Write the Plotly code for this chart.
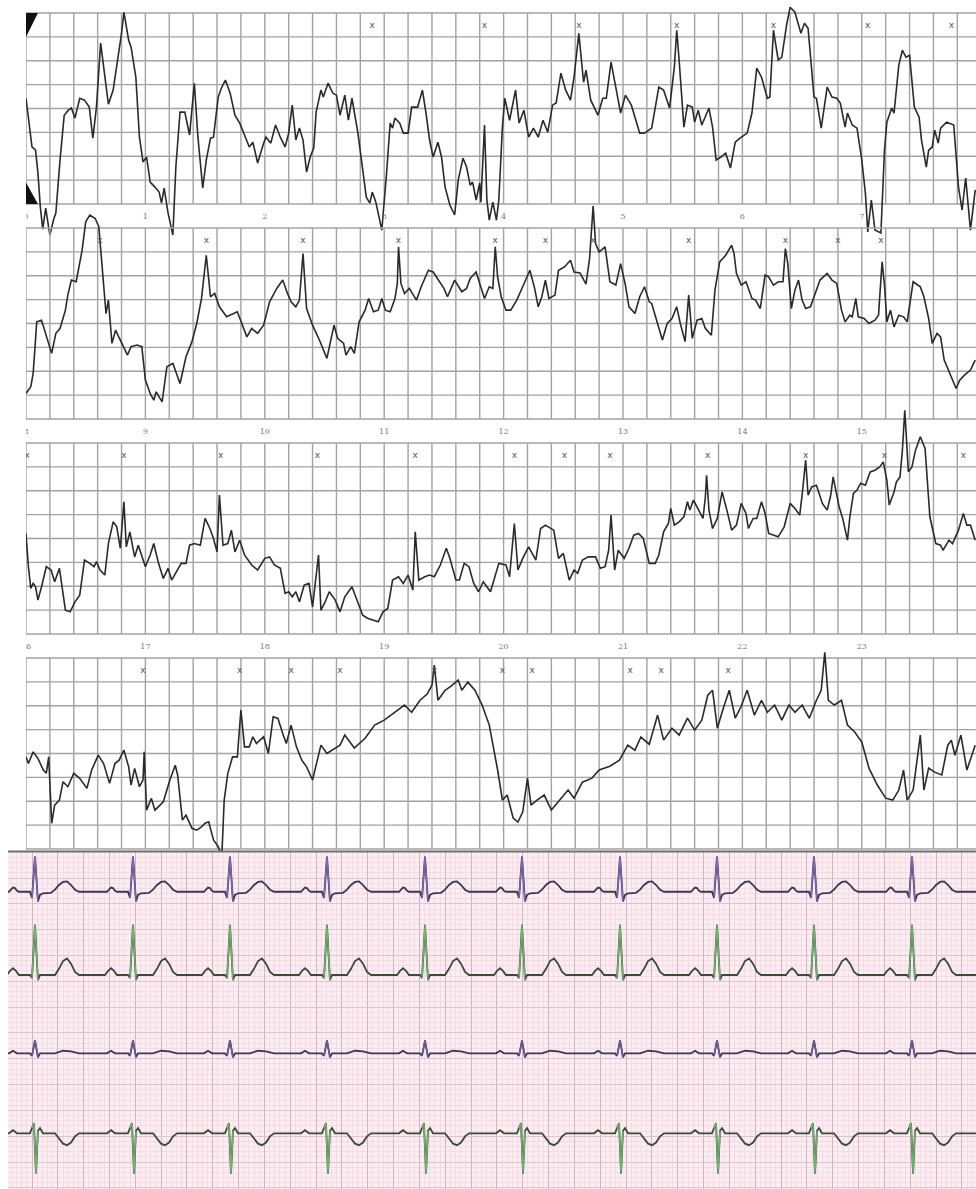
import plotly.graph_objects as go

W, H = 976, 1189

# ---------------------------------------------------------------------------
# Holter rhythm strips: (seconds from strip start, amplitude in grid divisions)
# ---------------------------------------------------------------------------
STRIP_1 = [
    (0, 4.43), (0.04, 2.97), (0.05, 2.39), (0.08, 2.26), (0.10, 1.30), (0.12, -0.13), (0.14, -1.05),
    (0.165, -0.17), (0.20, -1.30), (0.23, -0.67), (0.25, -0.38), (0.285, 1.84), (0.32, 3.72), (0.355, 3.93),
    (0.38, 4.02), (0.41, 3.60), (0.45, 4.43), (0.49, 4.35), (0.53, 4.06), (0.56, 2.76), (0.59, 4.06),
    (0.625, 6.74), (0.65, 5.73), (0.69, 4.18), (0.73, 4.77), (0.77, 6.03), (0.80, 7.15), (0.82, 8.03),
    (0.86, 6.86), (0.88, 6.57), (0.92, 5.31), (0.95, 2.80), (0.98, 1.76), (1.01, 1.97), (1.04, 0.92),
    (1.08, 0.71), (1.115, 0.50), (1.135, 0.04), (1.157, 0.67), (1.19, -0.38), (1.23, -1.30), (1.255, 1.55),
    (1.29, 3.85), (1.33, 3.85), (1.37, 2.89), (1.41, 5.06), (1.44, 2.80), (1.48, 0.67), (1.51, 1.84),
    (1.545, 2.76), (1.57, 2.80), (1.61, 4.48), (1.64, 4.90), (1.67, 5.19), (1.71, 4.64), (1.75, 3.72),
    (1.79, 3.39), (1.83, 2.89), (1.87, 2.39), (1.90, 2.59), (1.94, 1.72), (1.99, 2.55), (2.01, 2.80),
    (2.05, 2.55), (2.09, 3.31), (2.13, 2.80), (2.17, 2.39), (2.20, 2.97), (2.23, 4.14), (2.26, 2.68),
    (2.29, 3.18), (2.32, 2.68), (2.35, 1.34), (2.38, 1.97), (2.41, 2.34), (2.43, 3.85), (2.47, 4.77),
    (2.49, 4.48), (2.53, 5.06), (2.57, 4.64), (2.60, 4.56), (2.63, 3.72), (2.67, 4.56), (2.70, 3.51),
    (2.73, 4.43), (2.78, 2.97), (2.81, 1.84), (2.85, 0.29), (2.88, 0.04), (2.90, 0.50), (2.93, 0.08),
    (2.96, -0.67), (2.98, -1.09), (3.02, 1.30), (3.05, 3.39), (3.07, 3.18), (3.09, 3.60), (3.13, 3.39),
    (3.16, 2.97), (3.20, 2.97), (3.23, 4.06), (3.28, 4.06), (3.32, 4.77), (3.35, 3.81), (3.38, 2.68),
    (3.41, 1.97), (3.45, 2.59), (3.48, 1.97), (3.51, 0.71), (3.55, -0.04), (3.59, -0.46), (3.62, 1.00),
    (3.66, 1.92), (3.69, 1.55), (3.72, 0.79), (3.74, 0.92), (3.77, 0.17), (3.80, 0.88), (3.81, 0.08),
    (3.84, 3.31), (3.86, 0.17), (3.88, -0.67), (3.91, 0.08), (3.94, -0.67), (3.96, 0.17), (3.99, 3.22),
    (4.01, 4.43), (4.05, 3.51), (4.10, 4.77), (4.13, 3.39), (4.17, 3.93), (4.21, 2.80), (4.25, 3.18),
    (4.29, 2.80), (4.33, 3.51), (4.37, 3.01), (4.41, 4.14), (4.44, 4.23), (4.48, 5.48), (4.52, 4.77),
    (4.56, 4.35), (4.59, 5.31), (4.63, 7.15), (4.67, 5.10), (4.69, 5.61), (4.73, 4.35), (4.79, 3.72),
    (4.83, 4.43), (4.86, 4.43), (4.90, 5.94), (4.94, 4.90), (4.98, 3.81), (5.02, 4.56), (5.07, 4.14),
    (5.14, 2.97), (5.18, 2.97), (5.24, 3.18), (5.28, 4.27), (5.30, 4.90), (5.34, 4.77), (5.39, 4.02),
    (5.43, 5.73), (5.45, 7.28), (5.47, 6.03), (5.51, 3.22), (5.54, 4.14), (5.58, 4.06), (5.60, 3.43),
    (5.63, 3.93), (5.66, 3.31), (5.72, 4.02), (5.75, 3.22), (5.78, 1.84), (5.82, 1.97), (5.86, 2.13),
    (5.90, 1.51), (5.94, 2.59), (5.98, 2.76), (6.04, 2.97), (6.08, 3.81), (6.12, 5.69), (6.16, 5.31),
    (6.21, 4.43), (6.23, 4.48), (6.26, 7.28), (6.30, 6.03), (6.33, 6.15), (6.37, 7.49), (6.40, 8.24),
    (6.44, 8.03), (6.49, 7.15), (6.52, 7.57), (6.55, 7.36), (6.60, 4.48), (6.62, 4.43), (6.66, 3.18),
    (6.71, 4.90), (6.75, 4.48), (6.79, 4.43), (6.82, 4.23), (6.86, 3.22), (6.88, 3.81), (6.92, 3.31),
    (6.96, 3.18), (7.00, 1.84), (7.03, 0.46), (7.05, -1.17), (7.08, 0.17), (7.11, -1.09), (7.16, -1.21),
    (7.19, 2.26), (7.21, 3.43), (7.25, 4.02), (7.27, 3.81), (7.31, 5.82), (7.34, 6.44), (7.37, 6.15),
    (7.40, 6.23), (7.44, 4.06), (7.48, 3.64), (7.50, 2.68), (7.54, 1.55), (7.56, 2.26), (7.59, 2.39),
    (7.61, 3.10), (7.64, 2.55), (7.66, 3.18), (7.71, 3.43), (7.77, 3.31), (7.81, 0.71), (7.84, -0.25),
    (7.87, 1.09), (7.91, -1.09), (7.95, 0.59),
]

STRIP_2 = [
    (0, 1.07), (0.04, 1.35), (0.06, 1.91), (0.09, 4.07), (0.13, 4.14), (0.17, 3.44), (0.215, 2.75),
    (0.25, 3.59), (0.285, 3.79), (0.33, 4.56), (0.35, 5.19), (0.38, 5.82), (0.42, 5.75), (0.47, 7.07),
    (0.50, 8.26), (0.535, 8.54), (0.58, 8.40), (0.61, 8.05), (0.64, 6.37), (0.67, 4.42), (0.69, 4.98),
    (0.72, 3.17), (0.75, 3.72), (0.79, 3.31), (0.85, 2.68), (0.88, 3.03), (0.93, 3.10), (0.97, 3.03),
    (1.00, 1.63), (1.04, 1.07), (1.07, 0.79), (1.09, 1.14), (1.14, 0.72), (1.18, 2.19), (1.23, 2.33),
    (1.29, 1.49), (1.34, 2.61), (1.39, 3.24), (1.43, 4.00), (1.47, 5.05), (1.51, 6.86), (1.545, 5.12),
    (1.58, 5.26), (1.62, 4.70), (1.68, 4.28), (1.77, 4.49), (1.81, 4.00), (1.85, 3.44), (1.89, 3.79),
    (1.94, 3.59), (1.99, 3.93), (2.04, 4.91), (2.10, 5.47), (2.15, 5.82), (2.19, 5.26), (2.22, 4.91),
    (2.26, 4.70), (2.29, 4.98), (2.32, 6.93), (2.35, 4.63), (2.40, 3.93), (2.46, 3.28), (2.52, 2.54),
    (2.58, 3.93), (2.61, 3.38), (2.66, 3.17), (2.68, 2.68), (2.72, 3.03), (2.75, 2.75), (2.79, 4.07),
    (2.84, 4.56), (2.87, 5.05), (2.91, 4.49), (2.95, 4.56), (2.98, 5.05), (3.01, 4.56), (3.05, 4.49),
    (3.09, 5.05), (3.11, 5.68), (3.12, 7.21), (3.14, 5.68), (3.17, 5.26), (3.21, 5.47), (3.27, 4.98),
    (3.31, 5.54), (3.37, 6.23), (3.41, 6.16), (3.46, 5.75), (3.50, 5.47), (3.53, 5.12), (3.59, 5.82),
    (3.65, 5.33), (3.69, 5.47), (3.72, 5.89), (3.77, 6.16), (3.80, 5.68), (3.84, 5.05), (3.88, 5.54),
    (3.91, 5.47), (3.93, 7.21), (3.95, 5.95), (3.98, 5.12), (4.02, 4.56), (4.06, 4.56), (4.11, 4.98),
    (4.16, 5.54), (4.22, 6.23), (4.26, 5.47), (4.29, 4.70), (4.32, 5.12), (4.35, 5.82), (4.38, 5.05),
    (4.43, 5.19), (4.46, 6.23), (4.51, 6.37), (4.56, 6.65), (4.59, 6.16), (4.64, 6.12), (4.69, 5.65),
    (4.72, 6.72), (4.75, 8.92), (4.77, 7.35), (4.80, 7.00), (4.85, 7.21), (4.89, 5.75), (4.94, 5.61),
    (4.98, 6.51), (5.02, 5.61), (5.05, 4.70), (5.10, 4.42), (5.14, 5.12), (5.18, 5.54), (5.22, 4.91),
    (5.24, 4.84), (5.29, 4.00), (5.33, 3.31), (5.37, 4.00), (5.41, 4.21), (5.45, 4.70), (5.48, 4.00),
    (5.52, 3.24), (5.55, 5.19), (5.58, 3.38), (5.62, 4.14), (5.66, 4.21), (5.69, 3.79), (5.74, 3.51),
    (5.77, 5.40), (5.81, 6.58), (5.86, 6.86), (5.91, 7.28), (5.93, 6.93), (5.95, 6.10), (5.99, 5.61),
    (6.03, 5.75), (6.08, 5.05), (6.11, 4.98), (6.15, 4.63), (6.19, 6.03), (6.22, 5.95), (6.26, 5.61),
    (6.30, 5.75), (6.34, 5.75), (6.36, 7.14), (6.38, 6.51), (6.41, 4.63), (6.44, 5.40), (6.47, 5.82),
    (6.50, 4.98), (6.53, 4.63), (6.57, 4.70), (6.61, 5.26), (6.65, 5.82), (6.71, 6.10), (6.75, 5.82),
    (6.79, 5.68), (6.83, 4.56), (6.86, 4.07), (6.90, 4.35), (6.92, 4.28), (6.95, 5.05), (6.97, 4.28),
    (7.02, 4.21), (7.06, 4.00), (7.11, 4.14), (7.14, 4.35), (7.17, 6.58), (7.19, 5.61), (7.21, 4.07),
    (7.24, 4.56), (7.27, 3.86), (7.31, 4.35), (7.35, 4.28), (7.38, 4.07), (7.41, 5.12), (7.43, 5.75),
    (7.49, 5.54), (7.52, 5.12), (7.56, 4.21), (7.59, 3.17), (7.63, 3.59), (7.66, 3.44), (7.69, 2.47),
    (7.74, 1.91), (7.79, 1.28), (7.82, 1.63), (7.86, 1.84), (7.91, 2.05), (7.95, 2.47),
]

STRIP_3 = [
    (0, 4.21), (0.02, 2.82), (0.04, 1.91), (0.06, 2.12), (0.08, 1.98), (0.10, 1.42), (0.13, 1.98),
    (0.17, 2.82), (0.21, 2.68), (0.24, 2.19), (0.28, 2.75), (0.31, 1.56), (0.33, 1.00), (0.37, 0.93),
    (0.41, 1.35), (0.45, 1.63), (0.49, 3.10), (0.535, 2.96), (0.57, 2.82), (0.59, 3.03), (0.62, 2.68),
    (0.66, 2.47), (0.69, 3.79), (0.73, 4.70), (0.76, 4.49), (0.79, 3.59), (0.82, 5.54), (0.84, 3.65),
    (0.87, 4.28), (0.91, 3.23), (0.94, 3.72), (1.00, 2.82), (1.04, 3.31), (1.07, 3.79), (1.11, 2.96),
    (1.15, 2.33), (1.19, 2.75), (1.22, 2.26), (1.26, 2.61), (1.30, 2.96), (1.34, 2.96), (1.37, 3.72),
    (1.41, 3.79), (1.46, 3.72), (1.50, 4.84), (1.54, 4.42), (1.57, 4.00), (1.60, 3.44), (1.62, 5.82),
    (1.65, 3.72), (1.69, 3.79), (1.72, 4.35), (1.75, 3.44), (1.79, 3.93), (1.83, 3.31), (1.89, 2.89),
    (1.94, 2.68), (2.00, 3.17), (2.04, 3.23), (2.08, 2.89), (2.13, 2.75), (2.17, 1.70), (2.20, 1.77),
    (2.23, 1.56), (2.26, 1.77), (2.29, 1.35), (2.33, 2.05), (2.37, 2.12), (2.40, 1.14), (2.45, 3.31),
    (2.47, 1.00), (2.50, 1.28), (2.54, 1.77), (2.59, 1.42), (2.63, 0.93), (2.67, 1.56), (2.73, 1.98),
    (2.77, 1.42), (2.82, 0.79), (2.86, 0.66), (2.91, 0.59), (2.95, 0.51), (2.99, 0.93), (3.03, 1.07),
    (3.07, 2.26), (3.12, 2.40), (3.16, 2.12), (3.20, 2.47), (3.24, 1.84), (3.26, 4.28), (3.29, 2.26),
    (3.34, 2.40), (3.38, 2.47), (3.42, 2.40), (3.47, 2.89), (3.52, 3.59), (3.55, 3.17), (3.60, 2.26),
    (3.63, 2.26), (3.67, 2.96), (3.71, 2.82), (3.75, 2.12), (3.79, 1.77), (3.83, 2.19), (3.89, 1.77),
    (3.96, 2.96), (4.02, 2.89), (4.05, 2.40), (4.09, 4.63), (4.12, 2.68), (4.16, 3.17), (4.21, 3.65),
    (4.27, 3.10), (4.31, 4.42), (4.35, 4.56), (4.39, 4.42), (4.42, 4.35), (4.46, 3.17), (4.50, 3.38),
    (4.55, 2.26), (4.59, 2.68), (4.62, 2.54), (4.66, 3.10), (4.71, 3.23), (4.77, 3.23), (4.81, 2.75),
    (4.85, 2.82), (4.88, 3.51), (4.90, 4.98), (4.93, 2.68), (4.96, 3.51), (5.01, 3.17), (5.05, 3.59),
    (5.09, 4.14), (5.13, 4.21), (5.17, 4.00), (5.22, 2.96), (5.27, 2.96), (5.30, 3.31), (5.34, 4.28),
    (5.38, 4.63), (5.40, 5.26), (5.43, 4.56), (5.47, 4.70), (5.51, 4.91), (5.54, 5.54), (5.56, 5.19),
    (5.59, 5.61), (5.63, 5.19), (5.67, 4.84), (5.69, 5.75), (5.70, 6.65), (5.72, 5.19), (5.75, 4.42),
    (5.79, 4.84), (5.83, 5.95), (5.87, 5.19), (5.91, 4.35), (5.95, 4.56), (5.99, 5.47), (6.03, 5.05),
    (6.05, 4.42), (6.09, 4.84), (6.12, 4.84), (6.16, 5.54), (6.19, 5.05), (6.22, 4.21), (6.26, 4.14),
    (6.30, 4.07), (6.35, 4.49), (6.40, 5.47), (6.44, 5.26), (6.48, 4.98), (6.50, 5.82), (6.53, 7.28),
    (6.55, 5.82), (6.58, 6.16), (6.62, 6.23), (6.67, 5.47), (6.71, 5.19), (6.74, 5.82), (6.76, 6.58),
    (6.81, 5.33), (6.84, 4.84), (6.88, 3.93), (6.90, 4.91), (6.93, 5.89), (6.96, 6.03), (6.99, 6.31),
    (7.03, 6.23), (7.07, 6.79), (7.11, 6.86), (7.15, 7.00), (7.18, 7.21), (7.21, 6.44), (7.23, 5.40),
    (7.27, 5.95), (7.29, 6.37), (7.32, 6.58), (7.34, 7.70), (7.36, 9.37), (7.39, 6.79), (7.42, 7.00),
    (7.45, 7.70), (7.49, 8.26), (7.53, 7.77), (7.55, 6.44), (7.57, 4.91), (7.62, 3.79), (7.66, 3.72),
    (7.68, 3.51), (7.73, 3.93), (7.76, 3.79), (7.81, 4.35), (7.85, 5.05), (7.88, 4.56), (7.91, 4.56),
    (7.95, 3.93),
]

STRIP_4 = [
    (0, 3.86), (0.02, 3.58), (0.06, 4.07), (0.10, 3.79), (0.145, 3.31), (0.17, 3.17), (0.19, 3.86),
    (0.215, 1.08), (0.24, 1.84), (0.28, 2.05), (0.31, 2.82), (0.35, 2.61), (0.40, 3.17), (0.45, 2.96),
    (0.51, 2.54), (0.55, 3.31), (0.605, 3.93), (0.65, 3.58), (0.70, 2.75), (0.745, 3.58), (0.78, 3.72),
    (0.82, 4.14), (0.86, 3.44), (0.88, 2.68), (0.91, 3.38), (0.95, 2.61), (0.98, 2.89), (0.99, 4.07),
    (1.01, 1.63), (1.05, 2.12), (1.08, 1.63), (1.15, 1.98), (1.205, 2.89), (1.25, 3.51), (1.27, 3.10),
    (1.31, 1.21), (1.34, 1.42), (1.39, 0.87), (1.43, 0.79), (1.47, 0.93), (1.50, 1.08), (1.53, 1.14),
    (1.57, 0.38), (1.61, 0.10), (1.64, -0.30), (1.66, 2.05), (1.69, 3.17), (1.73, 3.86), (1.77, 3.86),
    (1.80, 5.82), (1.83, 4.28), (1.87, 4.28), (1.90, 4.70), (1.93, 4.42), (1.99, 4.70), (2.03, 4.00),
    (2.07, 5.54), (2.11, 5.47), (2.15, 4.84), (2.18, 4.42), (2.22, 5.19), (2.265, 4.28), (2.31, 3.72),
    (2.35, 3.44), (2.40, 2.89), (2.44, 3.72), (2.47, 4.35), (2.52, 4.00), (2.54, 4.07), (2.63, 4.35),
    (2.67, 4.77), (2.75, 4.23), (2.84, 4.64), (2.92, 5.19), (3.00, 5.40), (3.09, 5.73), (3.17, 6.03),
    (3.23, 5.73), (3.30, 6.23), (3.36, 6.49), (3.40, 6.86), (3.42, 7.70), (3.45, 6.23), (3.51, 6.65),
    (3.56, 6.82), (3.62, 7.07), (3.65, 6.65), (3.70, 6.99), (3.76, 6.65), (3.82, 6.03), (3.88, 5.19),
    (3.95, 3.31), (3.99, 2.05), (4.03, 2.26), (4.08, 1.30), (4.12, 1.13), (4.16, 1.55), (4.20, 2.97),
    (4.23, 1.84), (4.28, 2.05), (4.34, 2.26), (4.40, 1.63), (4.47, 2.05), (4.54, 2.47), (4.59, 2.13),
    (4.66, 2.80), (4.74, 2.97), (4.80, 3.31), (4.89, 3.47), (4.97, 3.72), (5.04, 4.35), (5.10, 4.14),
    (5.15, 4.69), (5.22, 4.39), (5.29, 5.61), (5.34, 4.56), (5.41, 5.06), (5.47, 4.77), (5.54, 5.48),
    (5.60, 4.98), (5.66, 5.40), (5.71, 6.44), (5.75, 6.65), (5.79, 5.06), (5.84, 5.90), (5.89, 6.65),
    (5.94, 5.48), (5.99, 5.98), (6.04, 6.65), (6.10, 5.61), (6.16, 6.23), (6.21, 5.73), (6.27, 6.03),
    (6.33, 5.40), (6.39, 6.03), (6.44, 5.73), (6.50, 6.03), (6.56, 5.48), (6.62, 6.23), (6.66, 6.65),
    (6.69, 8.24), (6.72, 6.23), (6.77, 6.03), (6.83, 6.23), (6.88, 5.19), (6.94, 4.90), (7.00, 4.48),
    (7.06, 3.39), (7.13, 2.68), (7.20, 2.13), (7.26, 2.05), (7.31, 2.47), (7.35, 3.31), (7.38, 2.05),
    (7.43, 2.47), (7.46, 3.72), (7.49, 4.77), (7.52, 2.47), (7.56, 3.39), (7.61, 3.22), (7.67, 3.10),
    (7.72, 4.35), (7.75, 4.56), (7.78, 3.93), (7.83, 4.77), (7.88, 3.31), (7.92, 3.93), (7.95, 4.35),
]

# Beat annotations ("x") along the top of each strip, seconds from strip start
MARKS_1 = [2.90, 3.84, 4.63, 5.45, 6.26, 7.05, 7.75]
MARKS_2 = [0.62, 1.51, 2.32, 3.12, 3.93, 4.35, 4.75, 5.55, 6.36, 6.80, 7.16]
MARKS_3 = [0.01, 0.82, 1.63, 2.44, 3.26, 4.09, 4.51, 4.89, 5.71, 6.53, 7.19, 7.85]
MARKS_4 = [0.98, 1.79, 2.22, 2.63, 3.42, 3.99, 4.24, 5.06, 5.32, 5.88]

STRIP_START_S = [0, 8, 16, 24]
SECOND_LABELS = [[str(s + i) for i in range(8)] for s in STRIP_START_S]

# ---------------------------------------------------------------------------
# Multi-lead rhythm on standard paper: R-peak times (s) and beat morphology
# per lead as (offset from R in s, amplitude in mV)
# ---------------------------------------------------------------------------
R_PEAKS_S = [0.223, 0.982, 1.733, 2.484, 3.243, 3.994, 4.753, 5.504, 6.255, 7.014]

BEAT_LEAD_1 = [(-0.271, 0), (-0.201, 0), (-0.186, 0.04), (-0.170, 0.08), (-0.155, 0.07), (-0.139, 0.02),
               (-0.124, 0), (-0.039, 0), (-0.023, -0.12), (0, 0.68), (0.023, -0.19), (0.039, -0.06),
               (0.062, -0.03), (0.124, -0.02), (0.155, 0.04), (0.186, 0.13), (0.217, 0.19), (0.248, 0.2),
               (0.279, 0.13), (0.310, 0.04), (0.341, 0.0), (0.47, 0)]
BEAT_LEAD_2 = [(-0.271, 0), (-0.217, 0), (-0.193, 0.08), (-0.170, 0.13), (-0.147, 0.08), (-0.124, 0),
               (-0.039, 0), (-0.023, -0.06), (0, 0.97), (0.023, -0.1), (0.039, 0), (0.155, 0),
               (0.186, 0.12), (0.217, 0.27), (0.248, 0.32), (0.279, 0.22), (0.310, 0.06), (0.341, 0),
               (0.47, 0)]
BEAT_LEAD_3 = [(-0.271, 0), (-0.201, 0), (-0.170, 0.05), (-0.139, 0), (-0.039, 0), (-0.023, -0.05),
               (0, 0.25), (0.023, -0.08), (0.039, 0), (0.155, 0), (0.217, 0.05), (0.279, 0.04),
               (0.341, 0), (0.47, 0)]
BEAT_LEAD_4 = [(-0.271, 0), (-0.201, 0), (-0.170, 0.06), (-0.139, 0), (-0.039, 0), (-0.023, 0.1),
               (-0.008, 0.2), (0.008, -0.78), (0.023, 0.05), (0.039, 0.1), (0.062, 0), (0.155, 0),
               (0.186, -0.1), (0.217, -0.2), (0.248, -0.23), (0.279, -0.18), (0.310, -0.06),
               (0.341, 0), (0.47, 0)]

# ---------------------------------------------------------------------------
# Layout constants (pixels)
# ---------------------------------------------------------------------------
CELL = 23.88                    # one grid division on the Holter strips
PX_PER_S = 5 * CELL
GRID_LEFT = 26
STRIP_TOP = [13, 228, 443, 658]
PINK_TOP = 852
PINK_LEFT = 8
PAPER_PX_PER_S = 129.15         # 25 mm/s
PAPER_PX_PER_MV = 51.66         # 10 mm/mV
PAPER_T0_PX = 6.17              # pixel position of t = 0 on the paper
LEAD_BASE_MV = [5.754, 4.142, 2.626, 1.078]
LEAD_LINE = ['#3b3752', '#3c4a3b', '#3d3950', '#3c4a3b']
LEAD_QRS = ['#7a68ac', '#6fb26f', '#6a5e92', '#6fb26f']

fig = go.Figure()


def sfx(n):
    return '' if n == 1 else str(n)


strips = [STRIP_1, STRIP_2, STRIP_3, STRIP_4]
marks = [MARKS_1, MARKS_2, MARKS_3, MARKS_4]
t_max = (W - GRID_LEFT) / PX_PER_S

for k in range(4):
    n = k + 1
    top = STRIP_TOP[k]
    bottom = top + 8 * CELL
    d_top = max(0, top - 36)
    d_bot = min(PINK_TOP - 1, bottom + 36)
    fig.layout['xaxis' + sfx(n)] = dict(domain=[GRID_LEFT / W, 1], range=[0, t_max], visible=False,
                                        fixedrange=True, anchor='y' + sfx(n))
    fig.layout['yaxis' + sfx(n)] = dict(domain=[1 - d_bot / H, 1 - d_top / H],
                                        range=[(bottom - d_bot) / CELL, (bottom - d_top) / CELL],
                                        visible=False, fixedrange=True, anchor='x' + sfx(n))
    xa, ya = 'x' + sfx(n), 'y' + sfx(n)

    # chart-paper grid: 0.2 s columns, 8 rows
    gx, gy = [], []
    i = 0
    while i * 0.2 <= t_max + 1e-9:
        gx += [i * 0.2, i * 0.2, None]
        gy += [0, 8, None]
        i += 1
    for v in range(9):
        gx += [0, t_max, None]
        gy += [v, v, None]
    fig.add_trace(go.Scatter(x=gx, y=gy, mode='lines', line=dict(color='#a2a2a2', width=1.4),
                             xaxis=xa, yaxis=ya, hoverinfo='skip', showlegend=False))

    # the recorded signal
    fig.add_trace(go.Scatter(x=[p[0] for p in strips[k]], y=[p[1] for p in strips[k]], mode='lines',
                             line=dict(color='#2a2a2a', width=1.6), xaxis=xa, yaxis=ya,
                             hoverinfo='skip', showlegend=False))

    # beat marks
    fig.add_trace(go.Scatter(x=marks[k], y=[8 - 13 / CELL] * len(marks[k]), mode='text',
                             text=['x'] * len(marks[k]),
                             textfont=dict(size=9, color='#555555', family='DejaVu Sans'),
                             xaxis=xa, yaxis=ya, hoverinfo='skip', showlegend=False))

    # second labels under the strip
    fig.add_trace(go.Scatter(x=list(range(8)), y=[-13 / CELL] * 8, mode='text', text=SECOND_LABELS[k],
                             textfont=dict(size=8, color='#7a7a7a', family='DejaVu Serif'),
                             xaxis=xa, yaxis=ya, hoverinfo='skip', showlegend=False))

# calibration marks at the start of the first strip
fig.add_shape(type='path', path='M 0,8 L 0.1,8 L 0,7 Z', xref='x', yref='y',
              fillcolor='#111111', line_width=0)
fig.add_shape(type='path', path='M 0,0 L 0.1,0 L 0,0.9 Z', xref='x', yref='y',
              fillcolor='#111111', line_width=0)

# ---------------------------------------------------------------------------
# pink ECG paper with four leads
# ---------------------------------------------------------------------------
fig.add_shape(type='rect', xref='paper', yref='paper', x0=PINK_LEFT / W, x1=1, y0=0,
              y1=1 - PINK_TOP / H, fillcolor='#fbedf2', line_width=0, layer='below')

p_range_x = [(PINK_LEFT - PAPER_T0_PX) / PAPER_PX_PER_S, (W - PAPER_T0_PX) / PAPER_PX_PER_S]
p_range_y = [0, (H - PINK_TOP) / PAPER_PX_PER_MV]
fig.layout['xaxis5'] = dict(domain=[PINK_LEFT / W, 1], range=p_range_x, anchor='y5', fixedrange=True,
                            showticklabels=False, ticks='', zeroline=False, showline=False,
                            tick0=0, dtick=0.2, showgrid=True, gridcolor='#d3b2c2', gridwidth=1.3,
                            minor=dict(tick0=0, dtick=0.04, showgrid=True, gridcolor='#f5dbe4',
                                       gridwidth=0.7))
fig.layout['yaxis5'] = dict(domain=[0, 1 - PINK_TOP / H], range=p_range_y, anchor='x5', fixedrange=True,
                            showticklabels=False, ticks='', zeroline=False, showline=False,
                            tick0=0.02, dtick=0.5, showgrid=True, gridcolor='#e2c2d0', gridwidth=1.2,
                            minor=dict(tick0=0.02, dtick=0.1, showgrid=True, gridcolor='#f5dbe4',
                                       gridwidth=0.7))

beats = [BEAT_LEAD_1, BEAT_LEAD_2, BEAT_LEAD_3, BEAT_LEAD_4]
for li, beat in enumerate(beats):
    base = LEAD_BASE_MV[li]
    xs, ys = [], []
    qx, qy = [], []
    for r in R_PEAKS_S:
        for dt, mv in beat:
            xs.append(r + dt)
            ys.append(base + mv)
        seg = [(dt, mv) for dt, mv in beat if -0.03 <= dt <= 0.03]
        qx += [r + dt for dt, _ in seg] + [None]
        qy += [base + mv for _, mv in seg] + [None]
    xs.append(p_range_x[1] + 0.02)
    ys.append(base)
    fig.add_trace(go.Scatter(x=xs, y=ys, mode='lines', line=dict(color=LEAD_LINE[li], width=1.8),
                             xaxis='x5', yaxis='y5', hoverinfo='skip', showlegend=False))
    fig.add_trace(go.Scatter(x=qx, y=qy, mode='lines', line=dict(color=LEAD_QRS[li], width=1.4),
                             xaxis='x5', yaxis='y5', hoverinfo='skip', showlegend=False))

# divider between the Holter strips and the paper
fig.add_shape(type='line', xref='paper', yref='paper', x0=PINK_LEFT / W, x1=1,
              y0=1 - (PINK_TOP - 0.5) / H, y1=1 - (PINK_TOP - 0.5) / H,
              line=dict(color='#6e6e6e', width=2))

fig.update_layout(width=W, height=H, margin=dict(l=0, r=0, t=0, b=0),
                  paper_bgcolor='white', plot_bgcolor='rgba(0,0,0,0)', showlegend=False)

fig.write_html('out.html')
